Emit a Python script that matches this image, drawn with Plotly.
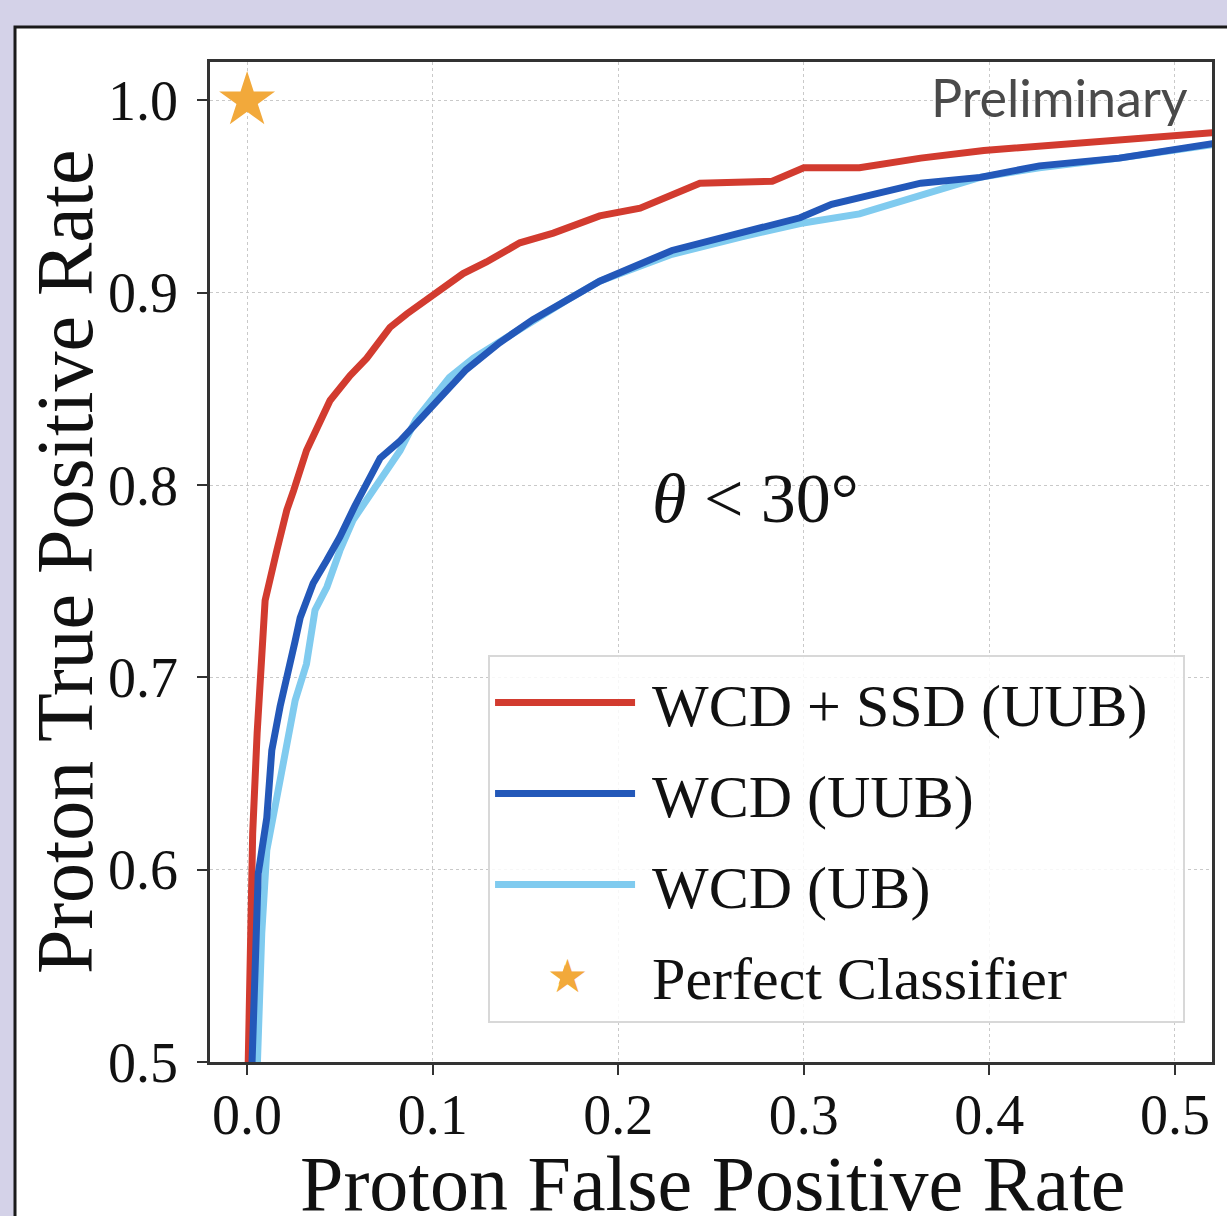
import plotly.graph_objects as go

# ---- data ----
fpr_wcd_ssd_uub = [0.0005, 0.0027, 0.0030, 0.0054, 0.0075, 0.0097, 0.016, 0.0214, 0.025, 0.032,
                   0.0447, 0.0555, 0.0645, 0.077, 0.086, 0.1002, 0.1164, 0.129, 0.147, 0.165, 0.190,
                   0.2118, 0.244, 0.283, 0.300, 0.330, 0.363, 0.397, 0.438, 0.470, 0.520, 0.530]
tpr_wcd_ssd_uub = [0.495, 0.584, 0.619, 0.671, 0.709, 0.740, 0.766, 0.787, 0.797, 0.818,
                   0.844, 0.857, 0.866, 0.882, 0.889, 0.899, 0.910, 0.916, 0.926, 0.931, 0.940,
                   0.944, 0.957, 0.958, 0.965, 0.965, 0.970, 0.974, 0.977, 0.979, 0.983, 0.984]

fpr_wcd_uub = [0.0025, 0.0060, 0.0106, 0.0133, 0.0178, 0.0214, 0.0259, 0.0286, 0.0356, 0.043, 0.050,
               0.058, 0.0717, 0.0825, 0.0914, 0.104, 0.118, 0.136, 0.154, 0.172, 0.190, 0.229,
               0.266, 0.298, 0.315, 0.363, 0.395, 0.427, 0.470, 0.520, 0.530]
tpr_wcd_uub = [0.495, 0.598, 0.627, 0.662, 0.685, 0.702, 0.719, 0.731, 0.749, 0.761, 0.773,
               0.789, 0.814, 0.823, 0.832, 0.846, 0.860, 0.874, 0.886, 0.896, 0.906, 0.922,
               0.931, 0.939, 0.946, 0.957, 0.960, 0.966, 0.970, 0.978, 0.979]

fpr_wcd_ub = [0.0054, 0.0079, 0.0106, 0.0178, 0.0223, 0.0259, 0.032, 0.0366, 0.043, 0.050, 0.0572,
              0.0645, 0.0825, 0.091, 0.109, 0.122, 0.145, 0.172, 0.190, 0.229, 0.266, 0.298,
              0.330, 0.373, 0.395, 0.427, 0.470, 0.520, 0.530]
tpr_wcd_ub = [0.495, 0.567, 0.610, 0.645, 0.671, 0.688, 0.707, 0.735, 0.747, 0.766, 0.782,
              0.792, 0.818, 0.834, 0.856, 0.866, 0.880, 0.896, 0.906, 0.920, 0.929, 0.936,
              0.941, 0.953, 0.960, 0.965, 0.970, 0.977, 0.978]

perfect_x = [0.0]
perfect_y = [1.0]

series_names = ["WCD + SSD (UUB)", "WCD (UUB)", "WCD (UB)", "Perfect Classifier"]
x_ticks = [0.0, 0.1, 0.2, 0.3, 0.4, 0.5]
x_tick_labels = ["0.0", "0.1", "0.2", "0.3", "0.4", "0.5"]
y_ticks = [0.5, 0.6, 0.7, 0.8, 0.9, 1.0]
y_tick_labels = ["0.5", "0.6", "0.7", "0.8", "0.9", "1.0"]

RED = "#d23b2f"
DBLUE = "#2358b9"
LBLUE = "#80cbef"
STAR = "#f2a93b"
SERIF = "Liberation Serif, DejaVu Serif, serif"
TXT = "#111111"
PAD = "\u2009"  # small gap between legend symbol and text

fig = go.Figure()
fig.add_trace(go.Scatter(x=fpr_wcd_ssd_uub, y=tpr_wcd_ssd_uub, mode="lines",
                         name=PAD + series_names[0] + "\u2002",
                         line=dict(color=RED, width=7), legendgroup="a", legendrank=1))
fig.add_trace(go.Scatter(x=fpr_wcd_ub, y=tpr_wcd_ub, mode="lines", name=PAD + series_names[2],
                         line=dict(color=LBLUE, width=7), legendgroup="c", legendrank=3))
fig.add_trace(go.Scatter(x=fpr_wcd_uub, y=tpr_wcd_uub, mode="lines", name=PAD + series_names[1],
                         line=dict(color=DBLUE, width=7), legendgroup="b", legendrank=2))
fig.add_trace(go.Scatter(x=perfect_x, y=perfect_y, mode="markers", name=PAD + series_names[3],
                         marker=dict(symbol="star", size=42, color=STAR, line=dict(width=0)),
                         legendgroup="d", legendrank=4, cliponaxis=False))

axis_common = dict(
    showline=True, linecolor="#333333", linewidth=2.5, mirror=True,
    ticks="outside", ticklen=10, tickwidth=2, tickcolor="#333333",
    showgrid=True, gridcolor="#c9c9c9", gridwidth=1, griddash="dot",
    zeroline=False, automargin=False,
    tickfont=dict(family=SERIF, size=56, color=TXT),
)

fig.update_xaxes(range=[-0.02, 0.52], tickvals=x_ticks, ticktext=x_tick_labels,
                 ticklabelstandoff=-8, **axis_common)
fig.update_yaxes(range=[0.5, 1.02], tickvals=y_ticks, ticktext=y_tick_labels,
                 ticklabelstandoff=8, **axis_common)

# white panel with black frame behind the plot
fig.add_shape(type="rect", xref="paper", yref="paper", x0=-0.1946, x1=1.05, y0=-0.2, y1=1.035,
              fillcolor="white", line=dict(color="#1a1a1a", width=3), layer="below")

# axis titles
fig.add_annotation(x=0.501, y=-0.121, xref="paper", yref="paper", xanchor="center", yanchor="middle",
                   text="Proton False Positive Rate", showarrow=False,
                   font=dict(family=SERIF, size=78, color=TXT))
fig.add_annotation(x=-0.1447, y=0.5, xref="paper", yref="paper", xanchor="center", yanchor="middle",
                   text="Proton True Positive Rate", showarrow=False, textangle=-90,
                   font=dict(family=SERIF, size=80, color=TXT))

fig.add_annotation(x=0.978, y=0.965, xref="paper", yref="paper", xanchor="right", yanchor="middle",
                   text="Preliminary", showarrow=False,
                   font=dict(family="Lato, Open Sans, sans-serif", size=52, color="#4a4a4a"))
fig.add_annotation(x=0.274, y=0.793, xref="x", yref="y", xanchor="center", yanchor="middle",
                   text="<i>θ</i> &lt; 30°", showarrow=False,
                   font=dict(family=SERIF, size=70, color=TXT))

# larger legend glyph for the star entry (plotly caps legend marker size)
fig.add_annotation(x=(567 - 210) / 1002, y=(1062 - 976) / 1000, xref="paper", yref="paper",
                   xanchor="center", yanchor="middle", text="★", showarrow=False,
                   font=dict(family="DejaVu Sans", size=46, color=STAR))

fig.update_layout(
    width=1227, height=1216,
    margin=dict(l=210, r=15, t=62, b=154),
    paper_bgcolor="#d4d2e8", plot_bgcolor="white",
    showlegend=True,
    legend=dict(x=0.2775, y=0.407, xanchor="left", yanchor="top",
                bgcolor="rgba(255,255,255,0.85)", bordercolor="#d8d8d8", borderwidth=2,
                font=dict(family=SERIF, size=60, color=TXT),
                itemwidth=140, tracegroupgap=10, traceorder="grouped"),
)

fig.write_html("out.html")
